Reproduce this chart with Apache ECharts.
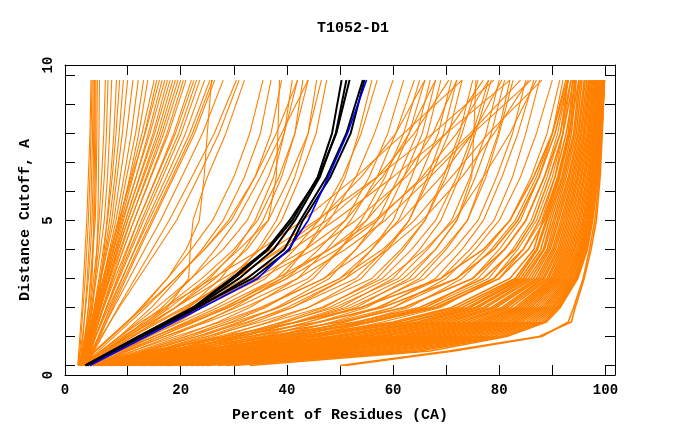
<!DOCTYPE html>
<html>
<head>
<meta charset="utf-8">
<script src="https://cdn.jsdelivr.net/npm/echarts@6/dist/echarts.min.js"></script>
<style>
  html, body { margin: 0; padding: 0; background: #fff; }
  #main { width: 680px; height: 440px; }
</style>
</head>
<body>
<div id="main"></div>
<script>
// distance cutoffs (A) at which every curve is sampled
var cutoffs = [0, 0.5, 1, 1.5, 2, 3, 4, 5, 6.5, 8, 9.84];

// percent of residues at each cutoff
// steep fan on the left
var fanLines = [
    [0.6, 0.8, 1.0, 1.2, 1.4, 1.7, 2.0, 2.3, 2.6, 2.9, 3.1],
    [0.8, 1.0, 1.2, 1.4, 1.6, 2.0, 2.3, 2.6, 2.9, 3.1, 3.3],
    [1.0, 1.3, 1.6, 1.8, 2.0, 2.4, 2.7, 3.0, 3.2, 3.4, 3.5],
    [0.7, 1.1, 1.5, 1.8, 2.1, 2.6, 3.0, 3.3, 3.5, 3.6, 3.7],
    [0.9, 1.5, 2.1, 2.5, 2.9, 3.3, 3.5, 3.6, 3.7, 3.8, 3.8],
    [1.2, 1.6, 2.0, 2.3, 2.6, 3.0, 3.4, 3.7, 3.9, 4.0, 4.0],
    [0.9, 1.4, 1.9, 2.3, 2.6, 3.1, 3.5, 3.9, 4.1, 4.2, 4.3],
    [0.8, 1.6, 2.4, 3.0, 3.4, 3.9, 4.2, 4.4, 4.5, 4.6, 4.7],
    [1.1, 1.6, 2.1, 2.6, 3.0, 3.6, 4.2, 4.6, 5.1, 5.5, 5.8],
    [1.3, 1.8, 2.3, 2.8, 3.2, 3.9, 4.5, 5.0, 5.6, 6.0, 6.3],
    [1.0, 1.6, 2.2, 2.8, 3.3, 4.1, 4.9, 5.6, 6.2, 6.6, 7.0],
    [0.9, 1.9, 2.9, 3.6, 4.2, 5.0, 5.6, 6.1, 6.8, 7.4, 7.9],
    [1.4, 2.0, 2.6, 3.2, 3.7, 4.6, 5.4, 6.2, 7.1, 7.8, 8.5],
    [1.2, 1.9, 2.6, 3.2, 3.8, 4.8, 5.8, 6.6, 7.6, 8.4, 9.2],
    [1.5, 2.1, 2.7, 3.3, 3.9, 5.0, 6.0, 7.0, 8.0, 9.0, 10],
    [1.1, 1.8, 2.5, 3.2, 3.8, 5.0, 6.2, 7.4, 8.6, 9.8, 11],
    [1.6, 2.3, 3.0, 3.6, 4.2, 5.4, 6.6, 7.8, 9.3, 10.7, 12],
    [1.3, 2.0, 2.7, 3.4, 4.1, 5.4, 6.8, 8.2, 9.8, 11.5, 13],
    [1.8, 2.5, 3.2, 3.9, 4.6, 6.0, 7.4, 8.6, 10.4, 12.1, 13.8],
    [1.4, 2.1, 2.8, 3.5, 4.2, 5.6, 7.0, 8.4, 10.6, 12.7, 15],
    [1.7, 2.4, 3.1, 3.8, 4.4, 5.8, 7.2, 8.8, 11, 13.2, 15.5],
    [1.2, 1.9, 2.6, 3.3, 4.0, 5.4, 6.9, 8.4, 10.8, 13.3, 16],
    [1.9, 2.6, 3.3, 4.0, 4.7, 6.2, 7.7, 9.2, 11.6, 13.9, 16.5],
    [1.5, 2.2, 2.9, 3.6, 4.3, 5.8, 7.4, 9.0, 11.6, 14.2, 17],
    [2.0, 2.7, 3.4, 4.1, 4.8, 6.4, 8.0, 9.6, 12.2, 14.8, 17.5],
    [1.3, 2.0, 2.8, 3.6, 4.4, 6.0, 7.8, 9.6, 12.3, 15.1, 18],
    [1.8, 2.6, 3.4, 4.2, 5.0, 6.6, 8.3, 10.0, 12.8, 15.6, 18.5],
    [1.6, 2.4, 3.2, 4.0, 4.8, 6.5, 8.2, 10.0, 13.0, 16.0, 19],
    [2.1, 2.9, 3.7, 4.5, 5.3, 7.0, 8.8, 10.6, 13.5, 16.4, 19.5],
    [1.4, 2.2, 3.1, 4.0, 4.9, 6.7, 8.6, 10.5, 13.7, 16.8, 20],
    [1.9, 2.8, 3.7, 4.6, 5.5, 7.3, 9.2, 11.2, 14.3, 17.4, 20.5],
    [1.7, 2.6, 3.5, 4.4, 5.3, 7.2, 9.2, 11.2, 14.4, 17.7, 21],
    [2.2, 3.1, 4.0, 5.0, 6.0, 8.0, 10.0, 12.0, 15.4, 18.7, 22],
    [1.5, 2.5, 3.5, 4.5, 5.5, 7.6, 9.8, 12.0, 15.5, 19.0, 22.5],
    [2.0, 3.0, 4.0, 5.0, 6.0, 8.2, 10.4, 12.6, 16.1, 19.6, 23],
    [1.8, 2.8, 3.9, 5.0, 6.1, 8.4, 10.7, 13.0, 16.6, 20.1, 23.6],
    [2.3, 3.4, 4.5, 5.6, 6.7, 9.0, 11.3, 13.6, 17.3, 20.9, 24.5],
    [1.6, 2.8, 4.0, 5.2, 6.4, 8.9, 11.4, 14.0, 17.9, 21.7, 25.5],
    [2.1, 3.3, 4.5, 5.7, 6.9, 9.4, 11.9, 14.5, 18.4, 22.2, 26],
    [2.4, 3.6, 4.8, 6.0, 7.2, 9.7, 12.2, 14.8, 18.7, 22.6, 26.4],
    [1.9, 3.2, 4.6, 6.0, 7.4, 10.3, 13.2, 16.2, 20.2, 24.1, 28],
    [2.2, 3.7, 5.2, 6.7, 8.2, 11.4, 14.6, 17.8, 22.1, 26.3, 30.5],
    [1.7, 3.3, 5.0, 6.7, 8.4, 12.0, 15.6, 19.2, 23.3, 27.2, 31]
];

// curves between the fan and the black group
var leftMidLines = [
    [1.6, 4.0, 7.0, 10.0, 12.5, 17.5, 22, 26, 30, 33, 35.5],
    [2.0, 5.0, 8.5, 11.5, 14.5, 19.5, 24, 28, 32, 35, 37],
    [2.2, 6.0, 10, 14, 18, 25, 31, 36.5, 38, 38.3, 38.6],
    [1.7, 4.5, 7.5, 10.5, 13.5, 19, 24.5, 29.5, 34, 37, 39],
    [2.4, 6.5, 11, 15, 19, 25.5, 30.5, 34, 37.5, 39.5, 41],
    [1.9, 5.0, 8.5, 12, 15.5, 22, 28, 32.5, 36.5, 39.5, 42],
    [2.6, 7.5, 12.5, 17, 21.5, 27.5, 32, 35.5, 39, 41.5, 43],
    [2.1, 5.5, 9.5, 13.5, 17, 24, 30, 34.5, 38.5, 41.5, 44],
    [2.8, 8.5, 14, 19.5, 24, 30, 34.5, 38, 41.5, 44, 45.6],
    [1.8, 5.5, 10, 14.5, 19, 26.5, 32.5, 36.5, 40.5, 44, 46.5],
    [2.5, 7.0, 12, 17, 21.5, 29, 35, 39, 42.5, 45.5, 47.5],
    [1.5, 5.0, 9.0, 13.5, 17.5, 21.5, 21.8, 22.3, 25, 28.5, 32],
    [1.4, 3.8, 6.8, 9.8, 12.8, 17.5, 21, 23.5, 24.4, 25, 25.8],
    [1.5, 4.0, 7.0, 10.0, 13.0, 19, 24.5, 29, 34, 38, 42],
    [2.0, 5.5, 9.5, 13.0, 16.5, 22, 26.5, 30.5, 35, 39, 44]
];

// curves right of the black group
var midLines = [
    [2.5, 8, 14, 20, 26, 36, 41.5, 46, 50.5, 54, 57],
    [3, 9.5, 16, 22.5, 28.5, 38, 43.5, 48, 53, 56.5, 60],
    [2.2, 8, 15, 22, 29, 40, 46, 51, 55.5, 59, 62],
    [3.5, 11, 18, 24.5, 30, 39, 43.5, 47, 51, 53.5, 56],
    [3, 12, 20, 27, 33, 42, 47.5, 52, 57, 60.5, 64],
    [2.8, 10, 17, 25, 32, 44, 50, 55, 59.5, 63, 66],
    [4, 13.5, 22, 29.5, 36, 45, 50, 54, 58.5, 62, 65],
    [3.2, 11, 19, 27.5, 35, 47, 53, 58, 62, 65.5, 68],
    [4.5, 15, 24, 31.5, 38, 48, 53, 57, 61, 64.5, 67],
    [3.5, 12.5, 21, 30, 38.5, 50, 56, 61, 65, 68.5, 71],
    [5, 16.5, 26, 34, 41, 51, 56, 60, 63.5, 66.5, 69],
    [3.8, 13.5, 23, 32.5, 41, 53, 58.5, 63, 67, 70.5, 73],
    [5.5, 18, 28, 36.5, 44, 54, 59, 63, 66.5, 69.5, 72],
    [4, 15, 25, 35, 44, 56, 61.5, 66, 70, 73, 76],
    [6, 19.5, 30, 39, 47, 57, 62, 66, 69.5, 72.5, 75],
    [4.5, 16, 27, 37, 46.5, 58, 63.5, 68, 72, 75, 78],
    [6.5, 21, 32, 41.5, 50, 60, 65, 69, 72.5, 75.5, 78.5],
    [5, 17.5, 29, 39.5, 49, 61, 66.5, 71, 74.5, 77.5, 80],
    [7, 22.5, 34, 44, 53, 63, 68, 72, 75.5, 78.5, 81],
    [5.5, 19, 31, 42, 52, 64, 69.5, 74, 77.5, 80, 82.6],
    [7.5, 24, 36, 46, 55, 65, 70, 74, 77, 79.8, 82],
    [6, 20.5, 33, 44, 54, 66, 71.5, 76, 79.5, 82.5, 85],
    [8, 25.5, 38, 48.5, 57.5, 68, 73, 77, 80.5, 83.5, 86.5],
    [6.5, 22, 35, 46.5, 57, 69, 74.5, 79, 82.5, 85, 87.6],
    [8.5, 27, 40, 51, 60, 70, 75.5, 80, 84, 87, 90],
    [7, 23.5, 37, 49, 60, 72, 77.5, 82, 86, 89, 91.4],
    [9, 28.5, 42, 53.5, 63, 73, 78.5, 83, 87, 90, 92.5],
    [7.5, 25, 39, 51, 62, 75, 80, 84, 87.5, 90, 92],
    [9.5, 30, 44, 56, 66, 76, 81, 85, 88.5, 91, 93],
    [8, 26.5, 41, 54, 66, 78, 82.5, 86, 89, 91.5, 93],
    [10, 31, 45, 58, 69, 79, 83.5, 87, 90, 92, 93.5],
    [8.5, 28, 43, 56, 68.5, 80, 84.5, 88, 90.5, 92, 92.8],
    [3, 7, 12, 17, 22, 32, 41, 49, 60, 70, 82],
    [2.5, 6, 10, 14.5, 19, 28, 37, 45.5, 57, 67.5, 79],
    [4, 9, 15, 21, 27, 38, 48, 56.5, 66, 74.5, 84],
    [2, 5, 8.5, 12.5, 17, 26, 35, 43, 53, 62, 73],
    [3.5, 8, 13, 18.5, 24, 35, 45, 53, 62.5, 70, 77],
    [3, 7.5, 12.5, 18, 23.5, 34, 43.5, 51, 58, 63, 68],
    [2.5, 6.5, 11, 16, 21, 30, 38.5, 46, 54, 60.5, 66],
    [4, 10, 17, 24, 30.5, 42, 51, 58.5, 67, 75, 86],
    [3, 8.5, 15, 21.5, 28, 39, 48, 55, 62, 67.5, 72],
    [5, 13, 21, 28.5, 35.5, 47, 55, 61.5, 69, 75, 80.5],
    [2.2, 6, 10.5, 15.5, 20.5, 30, 39, 47.5, 57, 64, 70.5],
    [3.5, 9.5, 16, 22.5, 29, 40, 49.5, 57, 65.5, 72, 78],
    [6, 16, 25, 33, 40, 51, 59, 65.5, 73, 79, 85.5],
    [4, 18, 31, 42, 51, 62, 68, 72, 74.8, 75.2, 75.6],
    [5, 14, 23, 31, 38.5, 50, 58, 64, 71, 78, 88],
    [7, 20, 31, 40, 48, 59, 66, 71.5, 77, 82, 87]
];

// dense band at the bottom and right
var bandLines = [
    [3, 22, 42, 60, 71, 82, 86.5, 88.2, 91, 93, 93.8],
    [4, 24, 44, 61, 72, 83, 87, 88.8, 91.4, 93.3, 94.2],
    [2.5, 21, 45, 62.5, 73, 83.5, 87.2, 89, 91.8, 93.6, 94.5],
    [5, 26, 46, 63, 74, 84, 87.8, 89.4, 92, 94, 95],
    [3.5, 27, 48, 64.5, 74.5, 84.5, 88.3, 89.8, 92.3, 94.2, 95.3],
    [6, 28, 49, 65, 75.5, 85, 88.5, 90.2, 92.6, 94.5, 95.6],
    [4.5, 29, 50, 66, 76, 85.5, 89, 90.5, 93, 94.8, 96],
    [7, 30, 51.5, 67, 77, 86, 89.3, 90.9, 93.2, 95, 96.2],
    [5.5, 31, 53, 68, 77.5, 86.5, 89.6, 91.2, 93.5, 95.3, 96.5],
    [8, 32, 54, 69, 78.5, 87, 90, 91.6, 93.8, 95.5, 96.8],
    [9, 33.5, 55, 70, 79, 87.4, 90.3, 91.9, 94, 95.8, 97],
    [6.5, 34, 56.5, 71, 79.5, 87.8, 90.6, 92.2, 94.3, 96, 97.2],
    [10, 35.5, 57.5, 72, 80.5, 88.2, 91, 92.5, 94.6, 96.2, 97.4],
    [11, 37, 58.5, 73, 81, 88.5, 91.3, 92.8, 94.8, 96.5, 97.6],
    [8.5, 38, 60, 74, 81.5, 89, 91.6, 93.1, 95, 96.7, 97.8],
    [12, 39, 61, 75, 82.2, 89.3, 91.9, 93.4, 95.3, 96.9, 98],
    [13, 40.5, 62, 75.8, 83, 89.7, 92.2, 93.7, 95.5, 97.1, 98.2],
    [10.5, 41.5, 63, 76.5, 83.5, 90, 92.5, 94, 95.8, 97.3, 98.3],
    [14, 43, 64, 77.3, 84, 90.3, 92.8, 94.3, 96, 97.5, 98.5],
    [15, 44, 65, 78, 84.5, 90.6, 93.1, 94.6, 96.2, 97.7, 98.6],
    [12.5, 45, 66, 78.8, 85, 90.9, 93.4, 94.9, 96.5, 97.9, 98.8],
    [16, 46.5, 67, 79.5, 85.5, 91.2, 93.7, 95.1, 96.7, 98, 98.9],
    [17, 47.5, 68, 80.2, 86, 91.5, 94, 95.4, 96.9, 98.2, 99],
    [14.5, 48.5, 69, 81, 86.5, 91.8, 94.2, 95.7, 97.1, 98.3, 99.1],
    [18, 50, 70, 81.7, 87, 92.1, 94.5, 95.9, 97.3, 98.5, 99.2],
    [19.5, 51, 71, 82.4, 87.5, 92.4, 94.8, 96.1, 97.5, 98.6, 99.3],
    [17.5, 52.5, 72, 83, 88, 92.7, 95, 96.3, 97.7, 98.7, 99.4],
    [21, 54, 73, 83.7, 88.4, 93, 95.2, 96.5, 97.8, 98.8, 99.4],
    [22, 55, 74, 84.3, 88.8, 93.2, 95.4, 96.7, 97.9, 98.9, 99.5],
    [20, 56.5, 75, 85, 89.2, 93.5, 95.6, 96.9, 98, 99, 99.5],
    [24, 58, 76, 85.6, 89.6, 93.7, 95.8, 97, 98.1, 99, 99.6],
    [25, 59, 77, 86.2, 90, 94, 96, 97.1, 98.2, 99.1, 99.6],
    [23, 60.5, 78, 86.8, 90.3, 94.2, 96.1, 97.2, 98.3, 99.1, 99.7],
    [27, 62, 79, 87.4, 90.7, 94.4, 96.3, 97.3, 98.4, 99.2, 99.7],
    [28.5, 63.5, 80, 88, 91, 94.6, 96.4, 97.4, 98.5, 99.2, 99.7],
    [30, 65, 80.8, 88.5, 91.3, 94.7, 96.5, 97.5, 98.5, 99.3, 99.8],
    [33, 67, 81.4, 88.9, 91.5, 94.8, 96.6, 97.6, 98.6, 99.3, 99.8],
    [2, 16, 33, 50, 62, 75, 81, 85, 88.5, 91.5, 93.5],
    [3, 18, 36, 53, 65, 77, 83, 86.5, 89.5, 92, 94],
    [4, 20, 38, 55, 67, 79, 84.5, 87.5, 90.5, 92.6, 94.4],
    [2.5, 14, 30, 46, 58, 72, 79, 83.5, 87.5, 90.5, 93],
    [5, 23, 40, 56, 68, 80, 85.5, 88.5, 91.2, 93.2, 95],
    [3.5, 15, 28, 42, 54, 69, 77, 82, 86.5, 90, 92.8],
    [50, 70.5, 87.5, 93.6, 94.3, 96, 97.3, 98.3, 99, 99.4, 99.8],
    [51, 71.5, 88, 93, 94, 95.8, 97, 98, 98.8, 99.3, 99.8]
];

var blackLines = [
    [2.1, 7.2, 12.3, 17.5, 22.5, 30, 36.5, 41, 45.8, 48.5, 50.3],
    [2.2, 7.4, 12.6, 17.8, 22.8, 31, 37.5, 41.5, 46.2, 49.2, 51.2],
    [2.0, 7.0, 12, 17.2, 22.3, 29.5, 36.2, 40.5, 46, 49.3, 51.8],
    [2.3, 7.6, 12.8, 18.2, 23.3, 32.5, 39.5, 42.5, 47.5, 51.2, 54.3],
    [2.2, 7.4, 12.5, 17.8, 23, 33.5, 40.5, 43, 48.2, 52, 54.6]
];

var blueLine = [2.9, 8.2, 13.5, 18.8, 24, 34.5, 40.3, 44, 47.8, 51.4, 55];

var myChart = echarts.init(document.getElementById('main'));

function toPoints(xs) {
    var pts = [];
    for (var i = 0; i < xs.length; i++) {
        pts.push([xs[i], cutoffs[i]]);
    }
    return pts;
}

function makeSeries(xs, color, width) {
    return {
        type: 'line',
        data: toPoints(xs),
        symbol: 'none',
        silent: true,
        lineStyle: { color: color, width: width },
        z: 2
    };
}

var series = [];
fanLines.concat(leftMidLines, midLines).forEach(function (xs) {
    series.push(makeSeries(xs, '#ff8000', 1.1));
});
bandLines.forEach(function (xs) {
    series.push(makeSeries(xs, '#ff8000', 1.6));
});
blackLines.forEach(function (xs) {
    series.push(makeSeries(xs, '#000000', 2));
});
series.push(makeSeries(blueLine, '#0000ff', 1.6));

var font = 'Liberation Mono';
var xTicks = [10, 20, 30, 40, 50, 60, 70, 80, 90, 100];
var yTicks = [0, 1, 2, 3, 4, 5, 6, 7, 8, 9, 10];
var xMin = -1.8, xMax = 101.8;
var yMin = -0.33, yMax = 10.36;

var tickStyle = { inside: true, length: 10, lineStyle: { color: '#000', width: 1 } };
var lineStyleAxis = { show: true, onZero: false, lineStyle: { color: '#000', width: 1 } };

option = {
    backgroundColor: '#fff',
    animation: false,
    title: {
        text: 'T1052-D1',
        left: 348,
        top: 16,
        textAlign: 'center',
        textStyle: { fontFamily: font, fontSize: 15, fontWeight: 'bold', color: '#000' }
    },
    grid: { left: 65, right: 65, top: 65, bottom: 65 },
    xAxis: [{
        type: 'value',
        min: xMin,
        max: xMax,
        name: 'Percent of Residues (CA)',
        nameLocation: 'middle',
        nameGap: 33,
        nameTextStyle: { fontFamily: font, fontSize: 15, fontWeight: 'bold', color: '#000' },
        axisLine: lineStyleAxis,
        axisTick: Object.assign({ customValues: xTicks }, tickStyle),
        axisLabel: {
            customValues: [xMin, 20, 40, 60, 80, 100],
            formatter: function (v) { return v < 1 ? '0' : String(Math.round(v)); },
            fontFamily: font, fontSize: 14, fontWeight: 'bold', color: '#000', margin: 8
        },
        splitLine: { show: false }
    }, {
        type: 'value',
        position: 'top',
        min: xMin,
        max: xMax,
        axisLine: lineStyleAxis,
        axisTick: Object.assign({ customValues: xTicks }, tickStyle),
        axisLabel: { show: false },
        splitLine: { show: false }
    }],
    yAxis: [{
        type: 'value',
        min: yMin,
        max: yMax,
        name: 'Distance Cutoff, A',
        nameLocation: 'middle',
        nameGap: 30,
        nameRotate: 90,
        nameTextStyle: { fontFamily: font, fontSize: 15, fontWeight: 'bold', color: '#000' },
        axisLine: lineStyleAxis,
        axisTick: Object.assign({ customValues: yTicks }, tickStyle),
        axisLabel: {
            customValues: [yMin, 5, yMax],
            rotate: 90,
            formatter: function (v) { return v < 1 ? '0' : (v > 9 ? '10' : '5'); },
            fontFamily: font, fontSize: 14, fontWeight: 'bold', color: '#000', margin: 10
        },
        splitLine: { show: false }
    }, {
        type: 'value',
        position: 'right',
        min: yMin,
        max: yMax,
        axisLine: lineStyleAxis,
        axisTick: Object.assign({ customValues: yTicks }, tickStyle),
        axisLabel: { show: false },
        splitLine: { show: false }
    }],
    series: series
};

myChart.setOption(option);
</script>
</body>
</html>
